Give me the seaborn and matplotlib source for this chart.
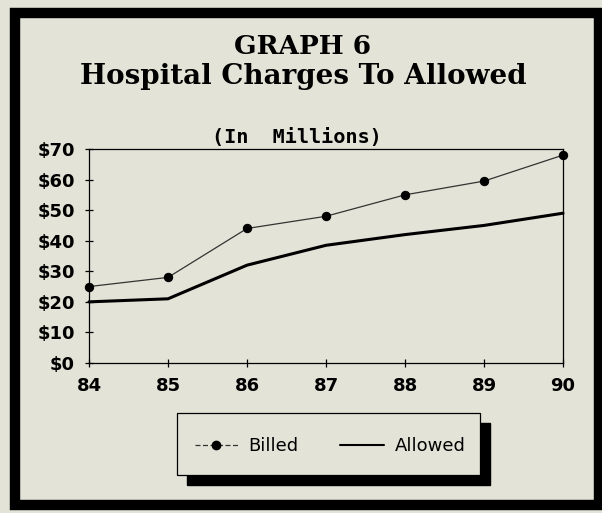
import matplotlib
matplotlib.use("Agg")
import matplotlib.pyplot as plt
from matplotlib.patches import Rectangle
from matplotlib.lines import Line2D
import seaborn as sns

# Values (in $ millions)
years = [84, 85, 86, 87, 88, 89, 90]
year_labels = ["84", "85", "86", "87", "88", "89", "90"]
billed = [25, 28, 44, 48, 55, 59.5, 68]
allowed = [20, 21, 32, 38.5, 42, 45, 49]
y_ticks = [0, 10, 20, 30, 40, 50, 60, 70]
y_labels = ["$0", "$10", "$20", "$30", "$40", "$50", "$60", "$70"]

BG = "#e3e4d7"
W, H = 602, 513

sns.set_style("white")
plt.rcParams["font.family"] = ["DejaVu Sans"]
plt.rcParams["text.color"] = "black"

fig = plt.figure(figsize=(W / 100, H / 100), dpi=100)
fig.patch.set_facecolor(BG)

def fx(px):
    return px / W

def fy(py):
    return 1 - py / H

ax = fig.add_axes([fx(89), fy(363), fx(563) - fx(89), fy(149) - fy(363)])
ax.set_facecolor(BG)

sns.lineplot(x=years, y=billed, ax=ax, color="#333333", linewidth=0.9,
             marker="o", markersize=6, markeredgecolor="black",
             markerfacecolor="black", clip_on=False, legend=False)
sns.lineplot(x=years, y=allowed, ax=ax, color="black", linewidth=2.2,
             clip_on=False, legend=False)

ax.set_xlim(84, 90)
ax.set_ylim(0, 70)
ax.set_xticks(years)
ax.set_xticklabels(year_labels)
ax.set_yticks(y_ticks)
ax.set_yticklabels(y_labels)
ax.set_xlabel("")
ax.set_ylabel("")
for s in ax.spines.values():
    s.set_visible(True)
    s.set_color("black")
    s.set_linewidth(0.9)
ax.tick_params(bottom=True, left=True, direction="inout", length=6,
               width=0.9, pad=7, colors="black", labelsize=13)
for lab in ax.get_xticklabels() + ax.get_yticklabels():
    lab.set_fontweight("bold")
    lab.set_color("black")

# titles
fig.text(fx(303), fy(54), "GRAPH 6", ha="center", va="baseline",
         family="DejaVu Serif", fontweight="bold", fontsize=19, color="black")
fig.text(fx(303), fy(84), "Hospital Charges To Allowed", ha="center",
         va="baseline", family="DejaVu Serif", fontweight="bold",
         fontsize=20, color="black")
fig.text(fx(297), fy(143), "(In  Millions)", ha="center", va="baseline",
         family="DejaVu Sans Mono", fontweight="bold", fontsize=14.5,
         color="black")

# outer black frame
fig.patches.append(Rectangle((fx(14.5), fy(505)), fx(598.5) - fx(14.5),
                             fy(13) - fy(505), transform=fig.transFigure,
                             fill=False, edgecolor="black", linewidth=7.5))

# legend box with drop shadow
fig.patches.append(Rectangle((fx(187), fy(485)), fx(490) - fx(187),
                             fy(423) - fy(485), transform=fig.transFigure,
                             facecolor="black", edgecolor="black"))
fig.patches.append(Rectangle((fx(177), fy(475)), fx(480) - fx(177),
                             fy(413) - fy(475), transform=fig.transFigure,
                             facecolor=BG, edgecolor="black", linewidth=0.9))

handles = [
    Line2D([], [], color="#333333", linewidth=0.9, linestyle=(0, (4, 2)),
           marker="o", markersize=6, markerfacecolor="black",
           markeredgecolor="black"),
    Line2D([], [], color="black", linewidth=1.5),
]
leg = fig.legend(handles, ["Billed", "Allowed"], loc="center",
                 bbox_to_anchor=(fx(330), fy(446)), ncol=2, frameon=False,
                 fontsize=13, handlelength=2.4, handletextpad=0.6,
                 columnspacing=2.3)
for t in leg.get_texts():
    t.set_color("black")

fig.savefig("out.png", dpi=100, facecolor=BG)
